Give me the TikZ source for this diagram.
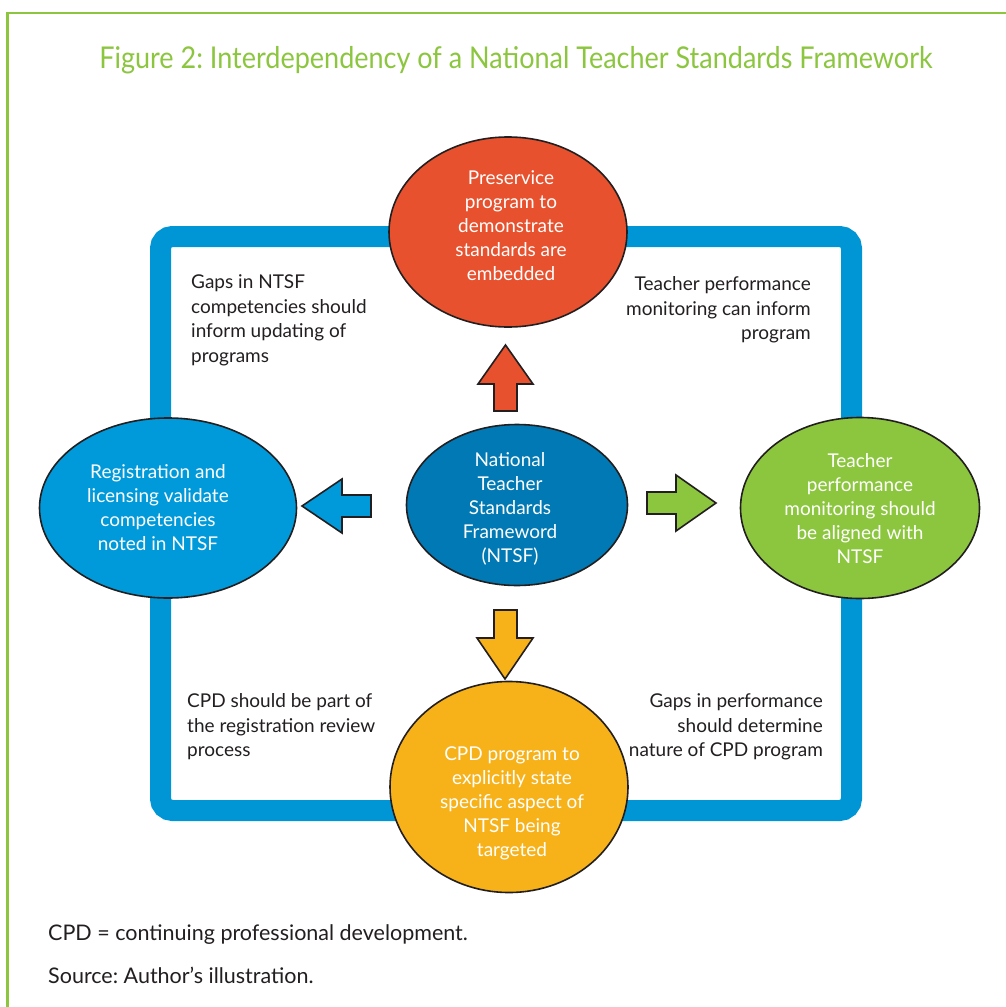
\documentclass[tikz,border=0pt]{standalone}
\usepackage{fontspec}
\setmainfont{Lato}
\newfontfamily\titlefont[FakeStretch=0.9]{Lato}
\usetikzlibrary{shapes.geometric}
\definecolor{frgreen}{HTML}{8CC63F}
\definecolor{frblue}{HTML}{0096D6}
\definecolor{cred}{HTML}{E8512D}
\definecolor{cblue}{HTML}{0079B4}
\definecolor{lblue}{HTML}{009ADB}
\definecolor{rgreen}{HTML}{8CC63F}
\definecolor{yel}{HTML}{F7B21A}
\definecolor{txt}{HTML}{231F20}
\frenchspacing
\tikzset{
  oval/.style={ellipse, draw=txt, line width=1.6pt, inner sep=0pt},
  intext/.style={text=white, align=center, inner sep=0pt, font=\fontsize{19}{24}\selectfont},
  sidetext/.style={text=txt, inner sep=0pt, font=\fontsize{19}{24.5}\selectfont},
  foottext/.style={text=txt, inner sep=0pt, font=\fontsize{21.5}{24}\selectfont},
  blockarrow/.style={draw=txt, line width=1.6pt, line join=miter},
}
\begin{document}
\begin{tikzpicture}[x=1pt,y=-1pt]
\useasboundingbox (0,0) rectangle (1006,1007);
\fill[white] (0,0) rectangle (1006,1007);
\draw[frgreen, line width=2.5pt] (1012,13) -- (7.5,13) -- (7.5,1012);
\node[text=frgreen, inner sep=0pt, font=\titlefont\fontsize{30}{32}\selectfont] (title) at (516,60.5) {Figure 2: Interdependency of a National Teacher Standards Framework};
% blue frame
\draw[frblue, line width=21pt, rounded corners=12pt] (160.5,236.5) rectangle (851.5,810.5);
% side texts
\node[sidetext, align=left, anchor=west] (t1) at (191,320.5) {Gaps in NTSF\\competencies should\\inform updating of\\programs};
\node[sidetext, align=right, anchor=east] (t2) at (811,310) {Teacher performance\\monitoring can inform\\program};
\node[sidetext, align=left, anchor=west] (t3) at (187,727) {CPD should be part of\\the registration review\\process};
\node[sidetext, align=right, anchor=east] (t4) at (823,727) {Gaps in performance\\should determine\\nature of CPD program};
% ellipses
\node[oval, fill=cred, minimum width=238pt, minimum height=190pt] (pre) at (508,232) {};
\node[intext] (pret) at (511,226) {Preservice\\program to\\demonstrate\\standards are\\embedded};
\node[oval, fill=cblue, minimum width=221pt, minimum height=161pt] (ntsf) at (517,505) {};
\node[intext] (ntsft) at (510,509) {National\\Teacher\\Standards\\Frameword\\(NTSF)};
\node[oval, fill=lblue, minimum width=257pt, minimum height=180pt] (reg) at (168,508) {};
\node[intext] (regt) at (158,508) {Registration and\\licensing validate\\competencies\\noted in NTSF};
\node[oval, fill=rgreen, minimum width=239pt, minimum height=181pt] (tpm) at (860,508) {};
\node[intext] (tpmt) at (860,509) {Teacher\\performance\\monitoring should\\be aligned with\\NTSF};
\node[oval, fill=yel, minimum width=238pt, minimum height=211pt] (cpd) at (509,787) {};
\node[intext] (cpdt) at (512,803) {CPD program to\\explicitly state\\specific aspect of\\NTSF being\\targeted};
% block arrows
\draw[blockarrow, fill=cred] (505.5,345) -- (533,384) -- (517,384) -- (517,411) -- (494,411) -- (494,384) -- (478,384) -- cycle;
\draw[blockarrow, fill=lblue] (302,506) -- (342,479) -- (342,495) -- (371,495) -- (371,517) -- (342,517) -- (342,533) -- cycle;
\draw[blockarrow, fill=rgreen] (716,503) -- (676,475) -- (676,492) -- (647,492) -- (647,514) -- (676,514) -- (676,531) -- cycle;
\draw[blockarrow, fill=yel] (505,679) -- (533,638) -- (517,638) -- (517,610) -- (494,610) -- (494,638) -- (477,638) -- cycle;
% footer
\node[foottext, anchor=west] (f1) at (48,935) {CPD = continuing professional development.};
\node[foottext, anchor=west] (f2) at (48,975) {Source: Author’s illustration.};
\end{tikzpicture}
\end{document}
